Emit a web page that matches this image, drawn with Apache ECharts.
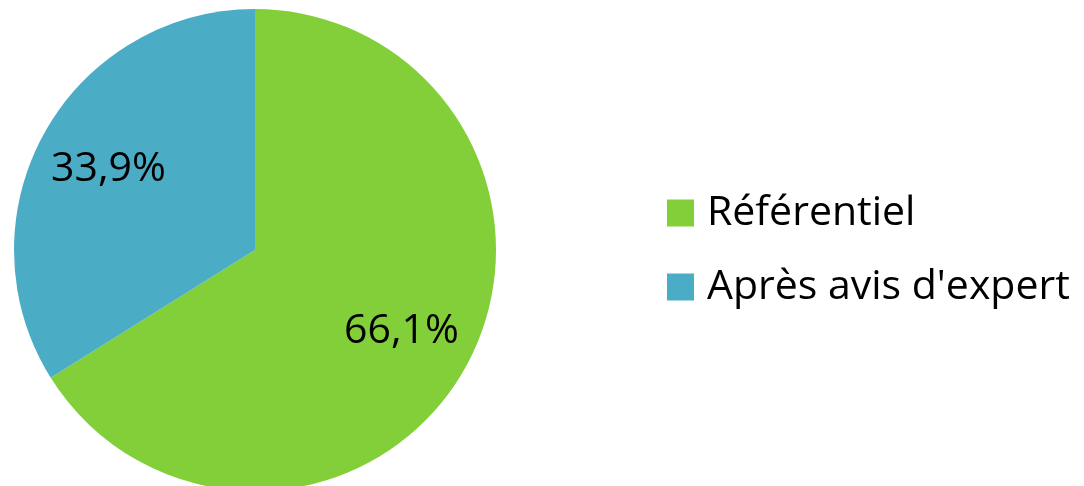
<!DOCTYPE html>
<html>
<head>
<meta charset="utf-8">
<script src="https://cdn.jsdelivr.net/npm/echarts@6/dist/echarts.min.js"></script>
<style>
html,body{margin:0;padding:0;background:#fff;}
#chart{width:1084px;height:486px;}
</style>
</head>
<body>
<div id="chart"></div>
<script>
const categories = ["Référentiel", "Après avis d'expert"];
const values = [66.1, 33.9];
const colors = ["#82CF3A", "#4BACC6"];

const FONT = "'Open Sans', 'Noto Sans', sans-serif";
const data = categories.map((c, i) => ({ name: c, value: values[i], itemStyle: { color: colors[i] } }));
const fmt = p => p.value.toFixed(1).replace('.', ',') + '%';

const chart = echarts.init(document.getElementById('chart'));
chart.setOption({
  animation: false,
  legend: {
    orient: 'vertical',
    left: 662,
    top: 187,
    padding: 5,
    itemWidth: 27,
    itemHeight: 27,
    itemGap: 32,
    icon: 'rect',
    selectedMode: false,
    textStyle: { fontFamily: FONT, fontSize: 41, color: '#000', lineHeight: 42, padding: [0, 0, 0, 8] },
    data: categories
  },
  series: [
    {
      type: 'pie',
      center: [255, 250],
      radius: [0, 241],
      startAngle: 90,
      clockwise: true,
      silent: true,
      label: { show: false },
      labelLine: { show: false },
      data: data
    },
    {
      type: 'pie',
      center: [255, 250],
      radius: [88, 241],
      startAngle: 90,
      clockwise: true,
      silent: true,
      legendHoverLink: false,
      itemStyle: { color: 'rgba(0,0,0,0)' },
      label: {
        show: true,
        position: 'inside',
        formatter: fmt,
        fontFamily: FONT,
        fontSize: 41,
        color: '#000'
      },
      labelLine: { show: false },
      data: categories.map((c, i) => ({ name: c, value: values[i] }))
    }
  ]
});
</script>
</body>
</html>
